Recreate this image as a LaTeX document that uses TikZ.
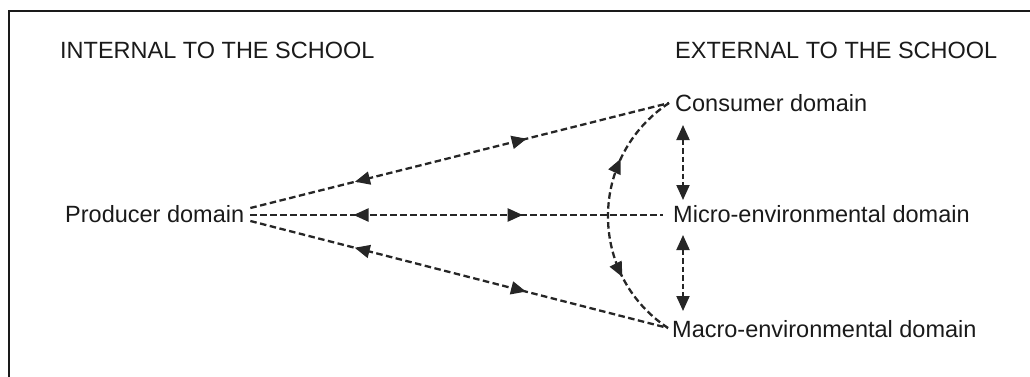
\documentclass[tikz,border=0pt]{standalone}
\usepackage{fontspec}
\setmainfont{Liberation Sans}
\usetikzlibrary{arrows.meta,decorations.markings,calc}
\definecolor{ink}{HTML}{1A1A1A}
\definecolor{lineink}{HTML}{262626}
\begin{document}
\begin{tikzpicture}[x=1pt,y=1pt,
  >={Triangle[length=15pt,width=13pt]},
  txt/.style={inner sep=0pt, anchor=base west, text=ink,
    font=\fontsize{23.5}{28}\selectfont},
  link/.style={draw=lineink, line width=2.3pt, dash pattern=on 6.5pt off 3.5pt},
  twoway/.style={link, postaction={decorate}, decoration={markings,
    mark=at position 0.25 with {\arrowreversed[lineink]{>}},
    mark=at position 0.66 with {\arrow[lineink]{>}}}},
  arcway/.style={link, postaction={decorate}, decoration={markings,
    mark=at position 0.28 with {\arrowreversed[lineink]{>}},
    mark=at position 0.74 with {\arrow[lineink]{>}}}},
  vlink/.style={draw=lineink, line width=2pt, dash pattern=on 5.5pt off 3pt, <->}
]
\useasboundingbox (0,0) rectangle (1030,-376);
% frame (only the top and left edges fall inside the page)
\draw[draw=ink, line width=2.2pt] (9,-380) -- (9,-11) -- (1034,-11);

% headings
\node[txt] (int) at (60,-58) {INTERNAL TO THE SCHOOL};
\node[txt] (ext) at (675,-58) {EXTERNAL TO THE SCHOOL};

% domains
\node[txt] (prod)  at (65,-222)  {Producer domain};
\node[txt] (cons)  at (675,-111) {Consumer domain};
\node[txt] (micro) at (673,-222) {Micro-environmental domain};
\node[txt] (macro) at (672,-337) {Macro-environmental domain};

% connector ends
\coordinate (pt) at ($(prod.base east)+(6,14)$);
\coordinate (pm) at ($(prod.base east)+(6,7)$);
\coordinate (pb) at ($(prod.base east)+(6,1)$);
\coordinate (cl) at ($(cons.base west)+(-6,8)$);
\coordinate (ml) at ($(micro.base west)+(-10,7)$);
\coordinate (al) at ($(macro.base west)+(-4,9)$);

% producer to the external domains
\draw[twoway] (pt) -- (cl);
\draw[twoway] (pm) -- (ml);
\draw[twoway] (pb) -- (al);

% consumer to macro-environment
\draw[arcway] (cl) to[out=213.6,in=146.4,looseness=1.1] (al);

% between neighbouring external domains
\draw[vlink] ($(cons.base west)+(8,-14)$) -- ($(micro.base west)+(10,22)$);
\draw[vlink] ($(micro.base west)+(10,-13)$) -- ($(macro.base west)+(11,26)$);
\end{tikzpicture}
\end{document}
